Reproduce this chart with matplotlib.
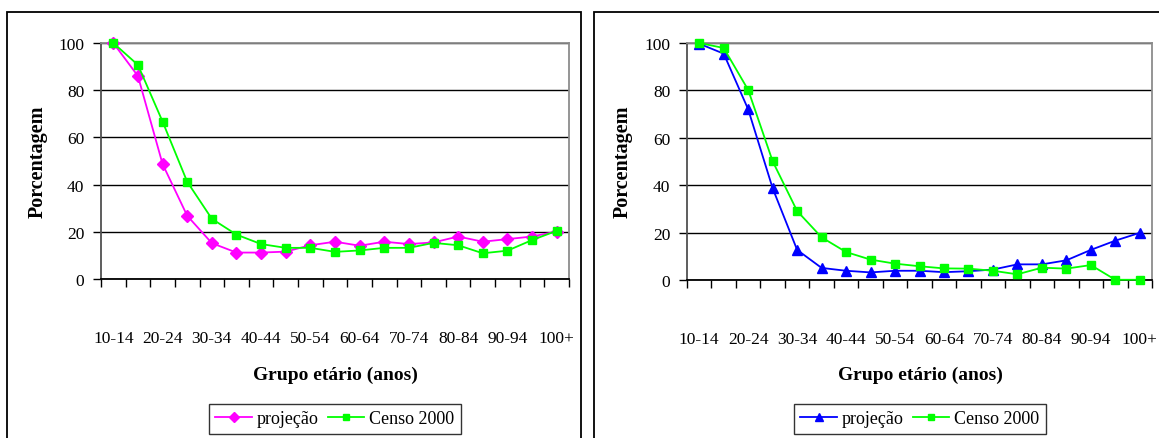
import matplotlib
matplotlib.use("Agg")
import matplotlib.pyplot as plt
from matplotlib.patches import Rectangle

plt.rcParams['font.family'] = ['Liberation Serif', 'DejaVu Serif']

# grupos etarios (10-14 ... 100+)
grupos = ['10-14', '15-19', '20-24', '25-29', '30-34', '35-39', '40-44', '45-49',
          '50-54', '55-59', '60-64', '65-69', '70-74', '75-79', '80-84', '85-89',
          '90-94', '95-99', '100+']

# painel esquerdo
proj_esq = [100, 86, 48.7, 26.8, 15.2, 11.2, 11.2, 11.6, 14.3, 15.8, 14.1, 15.8,
            14.8, 15.5, 18, 15.8, 16.9, 18, 20.1]
censo_esq = [100, 90.7, 66.7, 41.2, 25.5, 18.8, 14.8, 13.2, 13.2, 11.5, 12.1, 13.2,
             13.2, 15.3, 14.3, 10.9, 12, 16.5, 20.4]

# painel direito
proj_dir = [99.7, 95.5, 72, 38.7, 12.7, 5.1, 3.9, 3.2, 3.9, 3.9, 3.3, 3.7,
            4.4, 6.6, 6.6, 8.3, 12.7, 16.6, 19.9]
censo_dir = [100, 97.9, 80.2, 50.1, 29.1, 18, 11.8, 8.6, 6.9, 5.8, 4.9, 4.8,
             3.9, 2.4, 5.2, 4.8, 6.3, 0.1, 0.1]

W, H = 1159, 439
fig = plt.figure(figsize=(W / 100, H / 100), dpi=100)


def px_axes(x0, y_top, x1, y_bot):
    return fig.add_axes([x0 / W, 1 - y_bot / H, (x1 - x0) / W, (y_bot - y_top) / H])


def painel(ax, proj, censo, cor, marcador, msize, cx, ylab_x):
    x = range(len(grupos))
    ax.plot(x, proj, color=cor, marker=marcador, markersize=msize, lw=1.3,
            label='projeção', zorder=3, clip_on=False)
    ax.plot(x, censo, color='#00ff00', marker='s', markersize=5.5, lw=1.3,
            label='Censo 2000', zorder=3, clip_on=False)
    ax.set_xlim(-0.5, len(grupos) - 0.5)
    ax.set_ylim(0, 100)
    ax.set_yticks([0, 20, 40, 60, 80, 100])
    ax.yaxis.grid(True, color='black', lw=1)
    ax.set_axisbelow(True)
    ax.tick_params(axis='y', direction='out', length=6, width=1, labelsize=12.5, pad=6)
    ax.set_xticks(range(0, len(grupos), 2))
    ax.set_xticklabels(grupos[::2])
    ax.set_xticks([i - 0.5 for i in range(len(grupos) + 1)], minor=True)
    ax.tick_params(axis='x', which='major', length=0, labelsize=12.5, pad=37)
    ax.tick_params(axis='x', which='minor', direction='out', length=6, width=1)
    for s in ['top', 'right']:
        ax.spines[s].set_color('#8c8c8c')
    ax.spines['left'].set_color('#505050')
    ax.spines['bottom'].set_color('black')
    for s in ax.spines.values():
        s.set_linewidth(1.3)
    fig.text(ylab_x / W, 1 - 162 / H, 'Porcentagem', rotation=90, ha='center',
             va='center', fontweight='bold', fontsize=14.5)
    fig.text(cx / W, 1 - 375 / H, 'Grupo etário (anos)', ha='center', va='center',
             fontweight='bold', fontsize=14)
    leg = ax.legend(loc='upper center', bbox_to_anchor=(cx / W, 1 - 405 / H),
                    bbox_transform=fig.transFigure, ncol=2, fontsize=13,
                    frameon=True, fancybox=False, edgecolor='black',
                    handlelength=2.0, handletextpad=0.3, columnspacing=0.5,
                    borderpad=0.35, borderaxespad=0, markerscale=0.85)
    leg.get_frame().set_linewidth(1)


ax1 = px_axes(101, 44, 569, 280)
painel(ax1, proj_esq, censo_esq, '#ff00ff', 'D', 6, 335, 38)

ax2 = px_axes(687, 44, 1152, 281)
painel(ax2, proj_dir, censo_dir, '#0000ff', '^', 7.5, 920, 623)

# molduras dos dois graficos
for x0, x1 in [(7, 581), (594, 1175)]:
    fig.patches.append(Rectangle((x0 / W, -0.1), (x1 - x0) / W, 1.1 - 13 / H,
                                 transform=fig.transFigure, fill=False,
                                 edgecolor='black', lw=1.3))

fig.savefig('out.png', dpi=100)
